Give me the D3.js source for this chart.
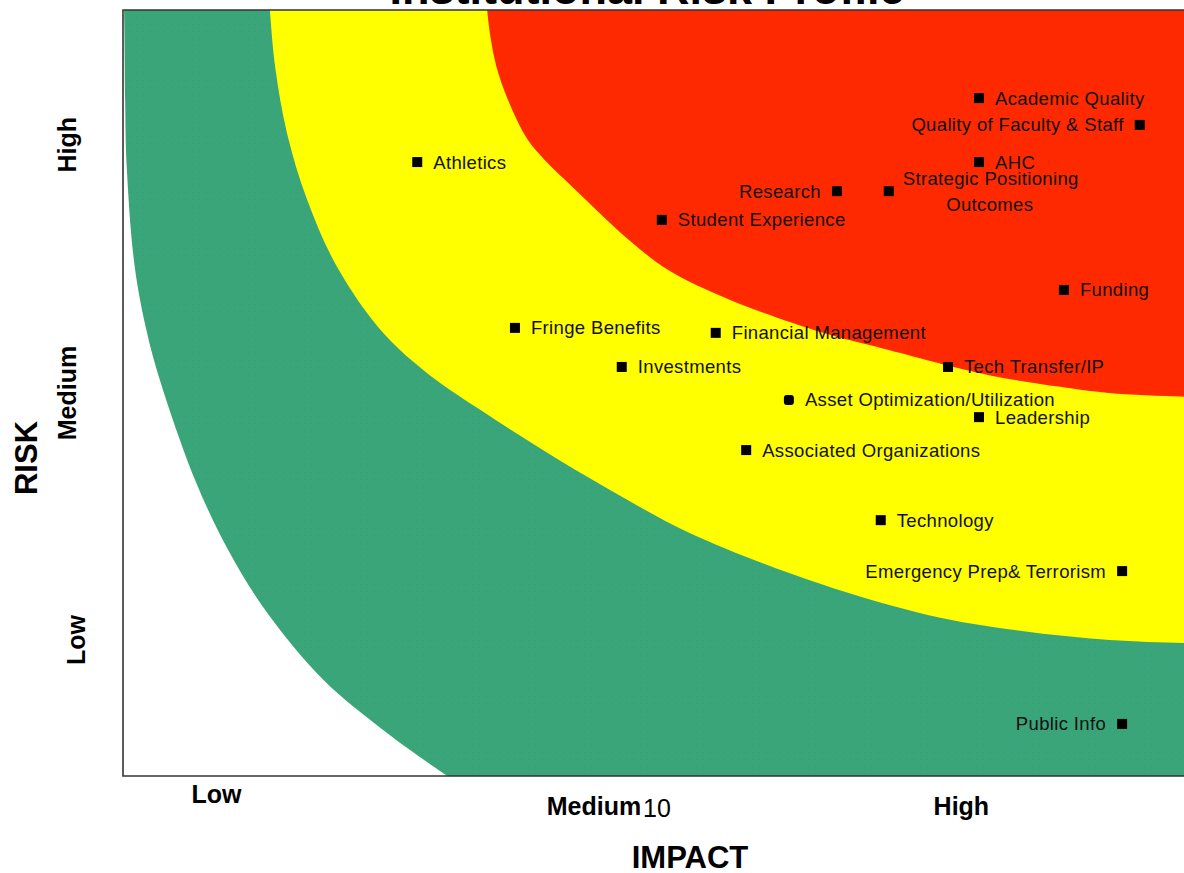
<!DOCTYPE html>
<html>
<head>
<meta charset="utf-8">
<script src="https://cdnjs.cloudflare.com/ajax/libs/d3/7.8.5/d3.min.js"></script>
<style>
  html, body { margin: 0; padding: 0; background: #fff; }
  svg { display: block; font-family: "Liberation Sans", Arial, sans-serif; }
</style>
</head>
<body>
<svg id="chart" width="1184" height="873"></svg>
<script>
// ---------- DATA ----------
const title = "Institutional Risk Profile";
const xAxisTitle = "IMPACT";
const yAxisTitle = "RISK";

const xTickValues = [1.75, 8.82, 15.7];
const xTickLabels = ["Low", "Medium", "High"];
const xNumericTick = [10];

const yTickValues = [3.55, 10.0, 16.48];
const yTickLabels = ["Low", "Medium", "High"];

// zone boundaries (impact, risk)
const outerGreenEdge = [[0.0,20.6],[0.02,20],[0.04,17.65],[0.07,15.9],[0.22,13.29],[0.45,11.57],[0.69,10.34],[1.35,7.73],[1.97,5.90],[2.70,4.26],[3.75,2.51],[4.87,1.20],[5.99,0.08],[6.5,-0.37]];
const yellowEdge = [[2.72,20.6],[2.75,20],[2.85,18.51],[3.07,16.79],[3.45,15.04],[4.01,13.29],[4.87,11.57],[5.75,10.46],[6.69,9.56],[7.81,8.56],[9.12,7.47],[10.62,6.34],[13.07,5.01],[15.09,4.20],[16.80,3.79],[18.48,3.55],[19.98,3.47],[21,3.44]];
const redEdge = [[6.8,20.6],[6.82,20],[6.89,19.22],[6.99,18.54],[7.21,17.65],[7.58,16.61],[7.90,16.08],[8.28,15.56],[8.67,15.04],[9.06,14.52],[9.48,13.99],[10.21,13.21],[11.37,12.43],[13.11,11.57],[14.21,11.17],[16.24,10.46],[17.55,10.16],[18.46,10.0],[19.98,9.90],[21,9.87]];

// risk items
const itemNames = ["Academic Quality","Quality of Faculty & Staff","AHC","Research","Strategic Positioning|Outcomes","Student Experience","Athletics","Funding","Fringe Benefits","Financial Management","Investments","Tech Transfer/IP","Asset Optimization/Utilization","Leadership","Associated Organizations","Technology","Emergency Prep& Terrorism","Public Info"];
const itemImpact = [16.03, 19.04, 16.03, 13.37, 14.34, 10.09, 5.51, 17.62, 7.34, 11.10, 9.34, 15.45, 12.47, 16.03, 11.67, 14.19, 18.71, 18.71];
const itemRisk   = [17.70, 17.00, 16.03, 15.27, 15.27, 14.52, 16.03, 12.69, 11.70, 11.57, 10.68, 10.68, 9.82, 9.37, 8.51, 6.68, 5.35, 1.36];
const itemLabelSide = ["right","left","right","left","split","right","right","right","right","right","right","right","right","right","right","right","left","left"];

// ---------- CHART ----------
const svg = d3.select("#chart");
const x = d3.scaleLinear().domain([0, 20]).range([123, 1191]);
const y = d3.scaleLinear().domain([0, 20]).range([776, 10]);

const defs = svg.append("defs");
defs.append("clipPath").attr("id", "plotClip")
  .append("rect")
  .attr("x", x(0)).attr("y", y(20))
  .attr("width", x(20) - x(0)).attr("height", y(0) - y(20));

const pat = defs.append("pattern").attr("id", "greenDots")
  .attr("width", 7).attr("height", 7).attr("patternUnits", "userSpaceOnUse");
pat.append("rect").attr("width", 7).attr("height", 7).attr("fill", "#3ba57a");
pat.append("rect").attr("x", 3).attr("y", 3).attr("width", 1).attr("height", 1).attr("fill", "#2f8fa0").attr("opacity", 0.6);

const line = d3.line().x(d => x(d[0])).y(d => y(d[1])).curve(d3.curveCatmullRom.alpha(0.5));

function zonePath(edge, closeCorners) {
  let p = line(edge);
  closeCorners.forEach(c => { p += "L" + x(c[0]) + "," + y(c[1]); });
  return p + "Z";
}

const plot = svg.append("g").attr("clip-path", "url(#plotClip)");
plot.append("path").attr("d", zonePath(outerGreenEdge, [[22,-0.37],[22,20.6]])).attr("fill", "url(#greenDots)");
plot.append("path").attr("d", zonePath(yellowEdge, [[22,3.44],[22,20.6]])).attr("fill", "#ffff00");
plot.append("path").attr("d", zonePath(redEdge, [[22,9.87],[22,20.6]])).attr("fill", "#ff2900");

// frame
svg.append("path")
  .attr("d", `M${x(20)},${y(20)}H${x(0)}V${y(0)}H${x(20)}`)
  .attr("fill", "none").attr("stroke", "#333").attr("stroke-width", 1.6);

// title (cut off at top)
svg.append("text").attr("x", 647).attr("y", 4)
  .attr("text-anchor", "middle").attr("font-size", 45).attr("font-weight", "bold")
  .attr("fill", "#000").text(title);

// markers and labels
const items = itemNames.map((n, i) => ({ name: n, ix: itemImpact[i], rk: itemRisk[i], side: itemLabelSide[i] }));
const g = svg.append("g").attr("font-size", 18.5).attr("letter-spacing", "0.35px").attr("fill", "#111");
items.forEach((d, i) => {
  const cx = x(d.ix), cy = y(d.rk);
  g.append("rect").attr("x", cx - 5).attr("y", cy - 5).attr("width", 10).attr("height", 10)
    .attr("rx", d.name.startsWith("Asset") ? 3 : 0)
    .attr("fill", "#000");
  if (d.side === "split") {
    const parts = d.name.split("|");
    g.append("text").attr("x", cx + 102).attr("y", cy - 13).attr("dy", "0.35em")
      .attr("text-anchor", "middle").text(parts[0]);
    g.append("text").attr("x", cx + 101).attr("y", cy + 13).attr("dy", "0.35em")
      .attr("text-anchor", "middle").text(parts[1]);
  } else {
    g.append("text")
      .attr("x", d.side === "right" ? cx + 16 : cx - 16)
      .attr("y", cy).attr("dy", "0.35em")
      .attr("text-anchor", d.side === "right" ? "start" : "end")
      .text(d.name);
  }
});

// x tick labels
const xBase = [803, 815, 815];
xTickValues.forEach((v, i) => {
  svg.append("text").attr("x", x(v)).attr("y", xBase[i])
    .attr("text-anchor", "middle").attr("font-size", 25).attr("font-weight", "bold")
    .attr("fill", "#000").text(xTickLabels[i]);
});
xNumericTick.forEach(v => {
  svg.append("text").attr("x", x(v)).attr("y", 817)
    .attr("text-anchor", "middle").attr("font-size", 25)
    .attr("fill", "#000").text(String(v));
});

// y tick labels (rotated)
const yBase = [85, 76, 76];
yTickValues.forEach((v, i) => {
  svg.append("text")
    .attr("transform", `translate(${yBase[i]},${y(v)}) rotate(-90)`)
    .attr("text-anchor", "middle").attr("font-size", 25).attr("font-weight", "bold")
    .attr("fill", "#000").text(yTickLabels[i]);
});

// axis titles
svg.append("text").attr("x", 690).attr("y", 868)
  .attr("text-anchor", "middle").attr("font-size", 31).attr("font-weight", "bold")
  .attr("fill", "#000").text(xAxisTitle);
svg.append("text")
  .attr("transform", `translate(37,458) rotate(-90)`)
  .attr("text-anchor", "middle").attr("font-size", 31).attr("font-weight", "bold")
  .attr("fill", "#000").text(yAxisTitle);
</script>
</body>
</html>
